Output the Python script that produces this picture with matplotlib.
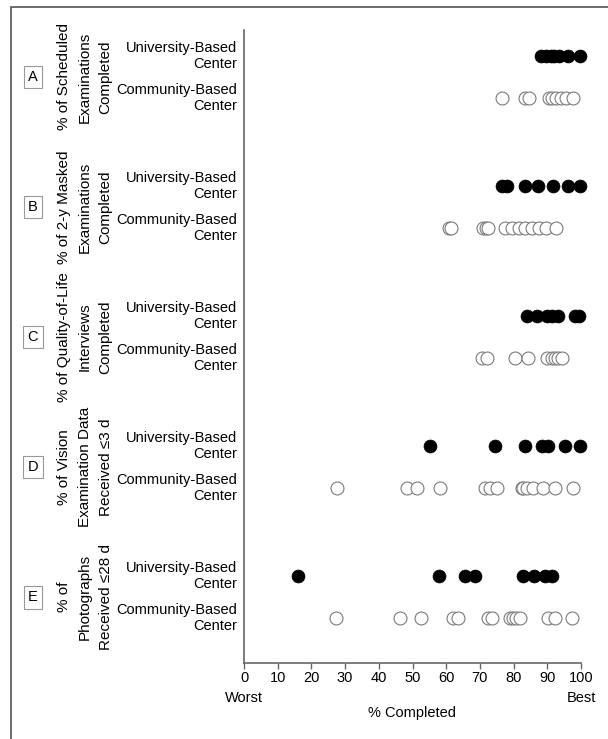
import matplotlib
matplotlib.use("Agg")
import matplotlib.pyplot as plt
from matplotlib.patches import Rectangle
import logging
logging.getLogger('matplotlib.font_manager').setLevel(logging.ERROR)

plt.rcParams['font.family'] = ['Liberation Sans', 'DejaVu Sans']

panel_letters = ["A", "B", "C", "D", "E"]
panel_titles = [
    "% of Scheduled\nExaminations\nCompleted",
    "% of 2-y Masked\nExaminations\nCompleted",
    "% of Quality-of-Life\nInterviews\nCompleted",
    "% of Vision\nExamination Data\nReceived \u22643 d",
    "% of\nPhotographs\nReceived \u226428 d",
]
row_labels = ["University-Based\nCenter", "Community-Based\nCenter"]

univ_A = [88, 89.5, 91, 92, 93.5, 96, 99.7]
comm_A = [76.5, 83.5, 84.5, 90.5, 91.5, 92.5, 94, 95.5, 97.5]
univ_B = [76.5, 78, 83.5, 87.3, 91.8, 96.2, 99.7]
comm_B = [60.8, 61.5, 71, 71.8, 72.5, 77.5, 79.5, 81.5, 83.5, 85.5, 87.5, 89.5, 92.5]
univ_C = [84, 87, 89.8, 91.3, 93.2, 98.2, 99.5]
comm_C = [70.5, 72, 80.4, 84.4, 89.8, 91.3, 92.3, 93.3, 94.3]
univ_D = [55.2, 74.5, 83.4, 88.3, 90.3, 95.3, 99.7]
comm_D = [27.5, 48.3, 51.2, 58.2, 71.5, 73, 75, 82.4, 82.9, 83.9, 85.8, 88.8, 92.3, 97.7]
univ_E = [16.1, 58, 65.6, 68.5, 82.7, 86.1, 89.3, 91.3]
comm_E = [27.2, 46.3, 52.5, 61.9, 63.6, 72.3, 73.7, 78.9, 79.9, 80.7, 81.9, 90.3, 92.3, 97.2]

univ = [univ_A, univ_B, univ_C, univ_D, univ_E]
comm = [comm_A, comm_B, comm_C, comm_D, comm_E]

x_ticks = list(range(0, 101, 10))

W, H = 608, 739
fig = plt.figure(figsize=(W / 100, H / 100), dpi=100)

# outer frame (partially clipped like reference)
fig.patches.append(Rectangle((11 / W, -0.05), 1.2, 1 - 7 / H + 0.05,
                             transform=fig.transFigure, fill=False,
                             edgecolor='#555555', linewidth=1.2))

ax_l, ax_r, ax_t, ax_b = 244, 581, 30, 663
ax = fig.add_axes([ax_l / W, 1 - ax_b / H, (ax_r - ax_l) / W, (ax_b - ax_t) / H])

step = 3.1
for p in range(5):
    yu = p * step
    yc = p * step + 1
    ax.plot(univ[p], [yu] * len(univ[p]), 'o', ms=9.3, mfc='black', mec='black',
            mew=0.5, ls='none', clip_on=False)
    ax.plot(comm[p], [yc] * len(comm[p]), 'o', ms=9.3, mfc='white', mec='#7a7a7a',
            mew=0.8, ls='none', clip_on=False, alpha=1)
    # row labels
    for yy, lab in zip([yu, yc], row_labels):
        ax.annotate(lab, xy=(0, yy), xycoords=('axes fraction', 'data'),
                    xytext=(-5, 0), textcoords='offset points',
                    ha='right', va='center', fontsize=10.5, linespacing=1.2)
    # panel title
    ymid = (yu + yc) / 2
    ax.annotate(panel_titles[p], xy=(85 / W, ymid), xycoords=('figure fraction', 'data'),
                ha='center', va='center', rotation=90, fontsize=11, linespacing=1.6,
                annotation_clip=False)
    ax.annotate(panel_letters[p], xy=(33 / W, ymid), xycoords=('figure fraction', 'data'),
                ha='center', va='center', fontsize=10.5, annotation_clip=False,
                bbox=dict(boxstyle='square,pad=0.3', fc='white', ec='#999999', lw=0.8))

ax.set_xlim(0, 100)
ax.set_ylim(4 * step + 1 + 1.07, -0.62)
ax.set_xticks(x_ticks)
ax.set_xticklabels([str(t) for t in x_ticks], fontsize=10.5)
ax.set_yticks([])
for s in ['top', 'right']:
    ax.spines[s].set_visible(False)
for s in ['left', 'bottom']:
    ax.spines[s].set_color('#666666')
    ax.spines[s].set_linewidth(1.2)
ax.tick_params(axis='x', direction='out', length=4, width=1, color='#666666', pad=2)

ax.annotate("Worst", xy=(0, 0), xycoords='axes fraction', xytext=(0, -25),
            textcoords='offset points', ha='center', va='center', fontsize=10.5)
ax.annotate("Best", xy=(1, 0), xycoords='axes fraction', xytext=(0, -25),
            textcoords='offset points', ha='center', va='center', fontsize=10.5)
ax.set_xlabel("% Completed", fontsize=10.5, labelpad=15)

fig.savefig("out.png", dpi=100)
